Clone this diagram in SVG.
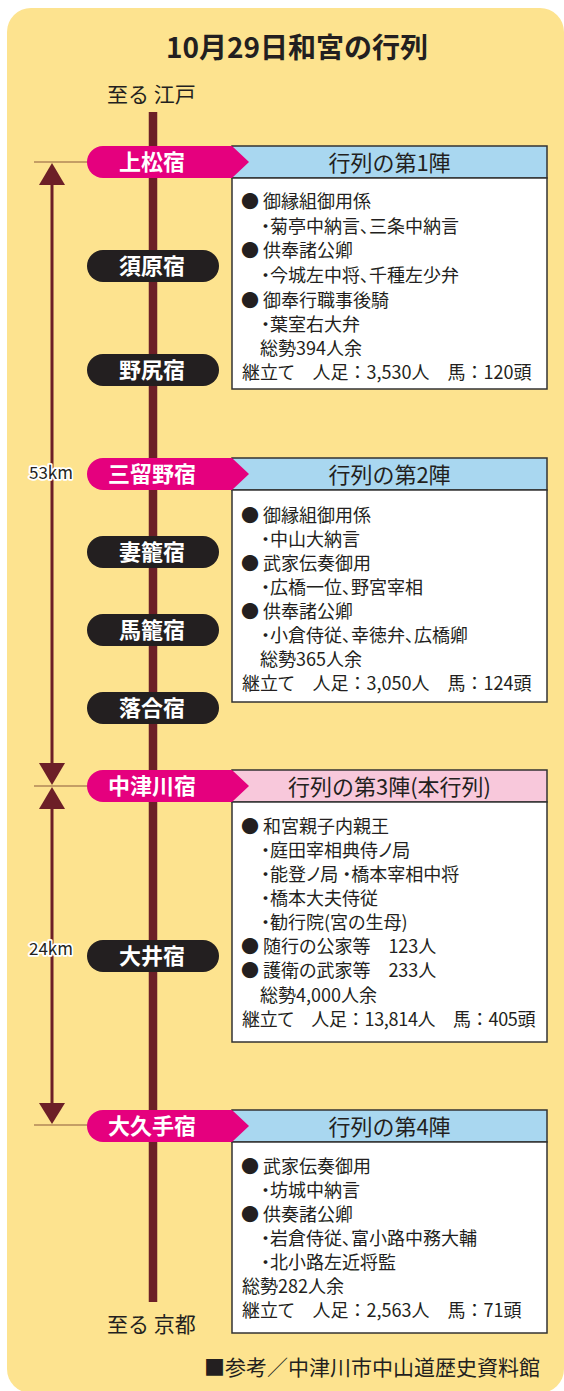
<svg xmlns="http://www.w3.org/2000/svg" width="564" height="1391" viewBox="0 0 564 1391">
<defs>
<style>
text{font-family:"Noto Sans CJK JP","Noto Sans",sans-serif;fill:#231F20}
.title{font-size:28px;font-weight:700;text-anchor:middle}
.end{font-size:21px}
.pt{font-size:22px;font-weight:700;fill:#fff;text-anchor:middle}
.hd{font-size:22px;text-anchor:middle}
.bd{font-size:18px;font-feature-settings:"palt"}
.fw{font-feature-settings:normal}
.km{font-size:17px;text-anchor:middle;stroke:#fff;stroke-width:3.5px;stroke-linejoin:round;paint-order:stroke}
.mag{fill:#E5007E}
.blk{fill:#231F20}
.hblue{fill:#A9D7F0;stroke:#333;stroke-width:1.5}
.hpink{fill:#F8C8DB;stroke:#333;stroke-width:1.5}
.body{fill:#fff;stroke:#333;stroke-width:1.5}
.road{stroke:#6C1F27;stroke-width:8.5}
.dim{stroke:#6C1F27;stroke-width:3}
.tick{stroke:#8C5A3C;stroke-width:1.2}
.tri{fill:#6C1F27}
</style>
</defs>
<rect x="7" y="8" width="557" height="1385" rx="24" fill="#FDE38F"/>
<text class="title" x="297" y="58">10月29日和宮の行列</text>
<text class="end" x="107" y="102">至る 江戸</text>
<text class="end" x="107" y="1332">至る 京都</text>

<g id="connectors">
<line class="road" x1="153" y1="112" x2="153" y2="1302"/>
<line class="tick" x1="34" y1="162" x2="90" y2="162"/>
<line class="tick" x1="34" y1="786" x2="90" y2="786"/>
<line class="tick" x1="34" y1="1125" x2="90" y2="1125"/>
<line class="dim" x1="52" y1="175" x2="52" y2="772"/>
<line class="dim" x1="52" y1="798" x2="52" y2="1112"/>
<polygon class="tri" points="52,163 39,185 65,185"/>
<polygon class="tri" points="52,785 39,763 65,763"/>
<polygon class="tri" points="52,787 39,809 65,809"/>
<polygon class="tri" points="52,1124 39,1103 65,1103"/>
<text class="km" x="51" y="479">53km</text>
<text class="km" x="51" y="955">24km</text>
</g>

<g id="box1">
<rect class="hblue" x="232" y="146" width="315" height="32"/>
<rect class="body" x="232" y="178" width="315" height="211"/>
<text class="hd" x="389.5" y="171">行列の第1陣</text>
<text class="bd" x="241" y="208">● 御縁組御用係</text>
<text class="bd" x="261" y="233">・菊亭中納言、三条中納言</text>
<text class="bd" x="241" y="257">● 供奉諸公卿</text>
<text class="bd" x="261" y="282">・今城左中将、千種左少弁</text>
<text class="bd" x="241" y="307">● 御奉行職事後騎</text>
<text class="bd" x="261" y="331">・葉室右大弁</text>
<text class="bd" x="260" y="355">総勢394人余</text>
<text class="bd" x="242" y="379">継立て　人足<tspan class="fw">：</tspan>3,530人　馬<tspan class="fw">：</tspan>120頭</text>
</g>

<g id="box2">
<rect class="hblue" x="232" y="458" width="315" height="32"/>
<rect class="body" x="232" y="490" width="315" height="212"/>
<text class="hd" x="389.5" y="483">行列の第2陣</text>
<text class="bd" x="241" y="522">● 御縁組御用係</text>
<text class="bd" x="261" y="546">・中山大納言</text>
<text class="bd" x="241" y="570">● 武家伝奏御用</text>
<text class="bd" x="261" y="594">・広橋一位、野宮宰相</text>
<text class="bd" x="241" y="618">● 供奉諸公卿</text>
<text class="bd" x="261" y="642">・小倉侍従、幸徳弁、広橋卿</text>
<text class="bd" x="260" y="666">総勢365人余</text>
<text class="bd" x="242" y="690">継立て　人足<tspan class="fw">：</tspan>3,050人　馬<tspan class="fw">：</tspan>124頭</text>
</g>

<g id="box3">
<rect class="hpink" x="232" y="770" width="315" height="32"/>
<rect class="body" x="232" y="802" width="315" height="240"/>
<text class="hd" x="389.5" y="795">行列の第3陣(本行列)</text>
<text class="bd" x="241" y="833">● 和宮親子内親王</text>
<text class="bd" x="261" y="857">・庭田宰相典侍ノ局</text>
<text class="bd" x="261" y="881">・能登ノ局 ・橋本宰相中将</text>
<text class="bd" x="261" y="905">・橋本大夫侍従</text>
<text class="bd" x="261" y="929">・勧行院(宮の生母)</text>
<text class="bd" x="241" y="953">● 随行の公家等　123人</text>
<text class="bd" x="241" y="977">● 護衛の武家等　233人</text>
<text class="bd" x="260" y="1002">総勢4,000人余</text>
<text class="bd" x="242" y="1026" letter-spacing="-0.3">継立て　人足<tspan class="fw">：</tspan>13,814人　馬<tspan class="fw">：</tspan>405頭</text>
</g>

<g id="box4">
<rect class="hblue" x="232" y="1110" width="315" height="32"/>
<rect class="body" x="232" y="1142" width="315" height="191"/>
<text class="hd" x="389.5" y="1135">行列の第4陣</text>
<text class="bd" x="241" y="1173">● 武家伝奏御用</text>
<text class="bd" x="261" y="1197">・坊城中納言</text>
<text class="bd" x="241" y="1221">● 供奏諸公卿</text>
<text class="bd" x="261" y="1245">・岩倉侍従、富小路中務大輔</text>
<text class="bd" x="261" y="1269">・北小路左近将監</text>
<text class="bd" x="242" y="1293">総勢282人余</text>
<text class="bd" x="242" y="1317">継立て　人足<tspan class="fw">：</tspan>2,563人　馬<tspan class="fw">：</tspan>71頭</text>
</g>

<g id="st-kamimatsu">
<path class="mag" d="M103,146H232L249,162L232,178H103A16,16 0 0 1 103,146Z"/>
<text class="pt" x="152" y="170">上松宿</text>
</g>
<g id="st-suhara">
<rect class="blk" x="87" y="250" width="132" height="32" rx="16"/>
<text class="pt" x="152" y="274">須原宿</text>
</g>
<g id="st-nojiri">
<rect class="blk" x="87" y="354" width="132" height="32" rx="16"/>
<text class="pt" x="152" y="378">野尻宿</text>
</g>
<g id="st-midono">
<path class="mag" d="M103,458H232L249,474L232,490H103A16,16 0 0 1 103,458Z"/>
<text class="pt" x="152" y="482">三留野宿</text>
</g>
<g id="st-tsumago">
<rect class="blk" x="87" y="536" width="132" height="32" rx="16"/>
<text class="pt" x="152" y="560">妻籠宿</text>
</g>
<g id="st-magome">
<rect class="blk" x="87" y="614" width="132" height="32" rx="16"/>
<text class="pt" x="152" y="638">馬籠宿</text>
</g>
<g id="st-ochiai">
<rect class="blk" x="87" y="692" width="132" height="32" rx="16"/>
<text class="pt" x="152" y="716">落合宿</text>
</g>
<g id="st-nakatsugawa">
<path class="mag" d="M103,770H232L249,786L232,802H103A16,16 0 0 1 103,770Z"/>
<text class="pt" x="152" y="794">中津川宿</text>
</g>
<g id="st-oi">
<rect class="blk" x="87" y="940" width="132" height="32" rx="16"/>
<text class="pt" x="152" y="964">大井宿</text>
</g>
<g id="st-okute">
<path class="mag" d="M103,1110H232L249,1126L232,1142H103A16,16 0 0 1 103,1110Z"/>
<text class="pt" x="152" y="1134">大久手宿</text>
</g>

<text x="540" y="1375" font-size="21" text-anchor="end">■参考／中津川市中山道歴史資料館</text>
</svg>
